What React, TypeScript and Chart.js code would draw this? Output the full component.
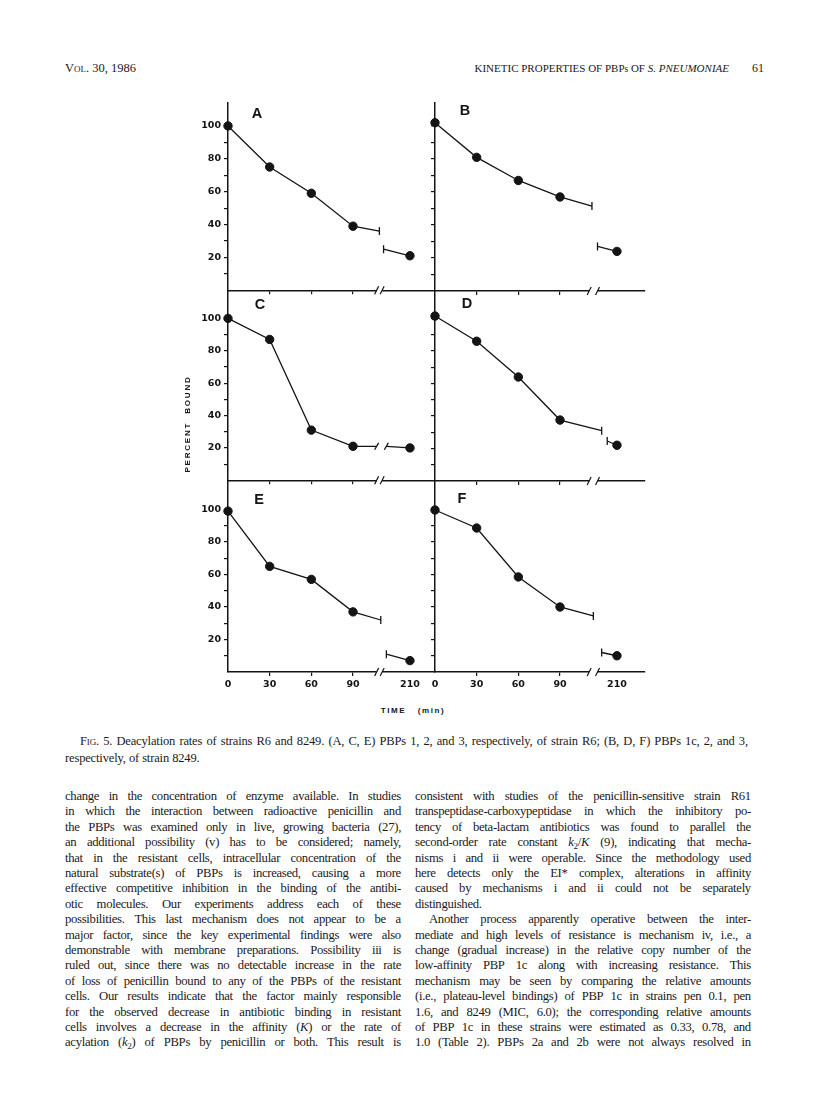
import React, { useEffect, useRef } from "react";
import { Chart, registerables } from "chart.js";

Chart.register(...registerables);

const INK = "#141414";

// ---- data -------------------------------------------------------------
// sampling times (min) before the axis break, and the late time after it
const TIMES = [0, 30, 60, 90];
const LATE_TIME = 210;
const LATE_TIME_POS = 131; // where 210 min sits on the broken time axis
const X_TICK_TIMES = [0, 30, 60, 90, 210];
const Y_LABELED = [20, 40, 60, 80, 100];
const PANEL_LETTERS = ["A", "B", "C", "D", "E", "F"];

// percent bound at 0, 30, 60 and 90 min
const A_BOUND = [100, 75, 59, 39];
const B_BOUND = [102, 81, 67, 57];
const C_BOUND = [100, 87, 31, 21];
const D_BOUND = [101.5, 86, 64, 37.5];
const E_BOUND = [99, 65, 57, 37];
const F_BOUND = [99.7, 88.6, 58.5, 40];

// end of the trend line before the break (axis position, percent)
const TAIL_POS = [109, 113, 107, 120, 110, 114];
const TAIL_BOUND = [36, 51.5, 21, 31, 32, 34.5];
// start of the trend line after the break (axis position, percent)
const HEAD_POS = [112, 117, 114, 124, 114, 120];
const HEAD_BOUND = [25, 27, 21, 24.6, 11, 12];
// percent bound at 210 min
const LATE_BOUND = [21, 24, 20, 22, 7, 10];
// how the trend line is interrupted: cap bars or slashes
const BREAK_STYLE = ["cap", "cap", "slash", "cap", "cap", "cap"];

const BOUNDS = [A_BOUND, B_BOUND, C_BOUND, D_BOUND, E_BOUND, F_BOUND];

// ---- layout -----------------------------------------------------------
const ROW_TOP = [103, 291, 481];
const ROW_BOTTOM = [291, 481, 672];
const COL_AXIS_X = [228, 435];
const COL_RIGHT = [435, 645];
const PX_PER_MIN = 1.389;
const ROW_PX_PER_PCT = [1.65, 1.625, 1.625];
const COL_AXIS_BREAK = [
  [107, 111],
  [111, 117],
];
const PAD_T = 12;
const PAD_R = 6;

const timePos = (t: number) => (t === LATE_TIME ? LATE_TIME_POS : t);

const TICK_FONT = { family: "DejaVu Sans", size: 9.5, weight: "bold" as const };

const axisBreakPlugin = {
  id: "axisBreak",
  afterDraw(chart: any, _args: any, opts: any) {
    const { ctx, chartArea } = chart;
    const xs = chart.scales.x;
    const y = chartArea.bottom;
    const a = xs.getPixelForValue(opts.from);
    const b = xs.getPixelForValue(opts.to);
    ctx.save();
    ctx.fillStyle = "#ffffff";
    ctx.fillRect(a, y - 3, b - a, 6);
    ctx.strokeStyle = INK;
    ctx.lineWidth = 1.2;
    for (const p of [a, b]) {
      ctx.beginPath();
      ctx.moveTo(p - 2, y + 4);
      ctx.lineTo(p + 2, y - 4);
      ctx.stroke();
    }
    ctx.restore();
  },
};

function Panel({ index }: { index: number }) {
  const ref = useRef<HTMLCanvasElement | null>(null);
  const col = index % 2;
  const row = Math.floor(index / 2);
  const yw = col === 0 ? 40 : 8;
  const xh = row === 2 ? 26 : 8;
  const chartW = COL_RIGHT[col] - COL_AXIS_X[col];
  const chartH = ROW_BOTTOM[row] - ROW_TOP[row];
  const left = COL_AXIS_X[col] - yw;
  const top = ROW_TOP[row] - PAD_T;
  const width = yw + chartW + PAD_R;
  const height = PAD_T + chartH + xh;
  const xMax = chartW / PX_PER_MIN;
  const yMax = chartH / ROW_PX_PER_PCT[row];

  useEffect(() => {
    if (!ref.current) return;
    const bound = BOUNDS[index];
    const slash = BREAK_STYLE[index] === "slash";
    const stubStyle = (isStub: boolean) => (isStub ? "line" : "circle");
    const mainData = TIMES.map((t, k) => ({ x: timePos(t), y: bound[k] })).concat([
      { x: TAIL_POS[index], y: TAIL_BOUND[index] },
    ]);
    const lateData = [
      { x: HEAD_POS[index], y: HEAD_BOUND[index] },
      { x: timePos(LATE_TIME), y: LATE_BOUND[index] },
    ];
    const stubIdxMain = mainData.length - 1;
    const common = {
      showLine: true,
      borderColor: INK,
      backgroundColor: INK,
      borderWidth: 1.3,
      tension: 0,
      clip: false as const,
      pointBorderColor: INK,
      pointBackgroundColor: INK,
    };
    const pointOpts = (stubIdx: number) => ({
      pointStyle: (c: any) => stubStyle(c.dataIndex === stubIdx),
      pointRotation: (c: any) => (c.dataIndex === stubIdx ? (slash ? 120 : 90) : 0),
      pointRadius: (c: any) => (c.dataIndex === stubIdx ? 4 : 4.2),
      pointBorderWidth: (c: any) => (c.dataIndex === stubIdx ? 1.3 : 1),
    });

    const chart = new Chart(ref.current, {
      type: "scatter",
      data: {
        datasets: [
          { ...common, ...pointOpts(stubIdxMain), data: mainData },
          { ...common, ...pointOpts(0), data: lateData },
        ] as any,
      },
      plugins: [axisBreakPlugin as any],
      options: {
        animation: false,
        responsive: false,
        maintainAspectRatio: false,
        devicePixelRatio: 1,
        events: [],
        layout: { padding: { top: PAD_T, right: PAD_R, left: 0, bottom: 0 } },
        plugins: {
          legend: { display: false },
          tooltip: { enabled: false },
          axisBreak: { from: COL_AXIS_BREAK[col][0], to: COL_AXIS_BREAK[col][1] },
        } as any,
        scales: {
          x: {
            type: "linear",
            min: 0,
            max: xMax,
            afterBuildTicks: (s: any) => {
              s.ticks = X_TICK_TIMES.map((t) => ({ value: timePos(t) }));
            },
            afterFit: (s: any) => {
              s.height = xh;
            },
            grid: {
              drawOnChartArea: false,
              drawTicks: true,
              tickLength: 4,
              lineWidth: 1.2,
              color: (c: any) =>
                c.tick && (c.tick.value === 0 || c.tick.value === LATE_TIME_POS)
                  ? "rgba(0,0,0,0)"
                  : INK,
            },
            border: { display: true, color: INK, width: 1.5 },
            ticks: {
              display: row === 2,
              autoSkip: false,
              maxRotation: 0,
              padding: 3,
              color: INK,
              font: TICK_FONT,
              callback: (_v: any, i: number) => String(X_TICK_TIMES[i]),
            },
          },
          y: {
            type: "linear",
            min: 0,
            max: yMax,
            afterFit: (s: any) => {
              s.width = yw;
            },
            grid: {
              drawOnChartArea: false,
              drawTicks: true,
              tickLength: 4,
              lineWidth: 1.2,
              color: (c: any) =>
                c.tick && (c.tick.value === 0 || c.tick.value > 100) ? "rgba(0,0,0,0)" : INK,
            },
            border: { display: true, color: INK, width: 1.5 },
            ticks: {
              display: col === 0,
              stepSize: 10,
              includeBounds: false,
              padding: 3,
              color: INK,
              font: TICK_FONT,
              callback: (v: any) => (Y_LABELED.includes(v) ? String(v) : ""),
            },
          },
        },
      } as any,
    });
    return () => chart.destroy();
  }, []);

  return (
    <canvas
      ref={ref}
      width={width}
      height={height}
      style={{ position: "absolute", left, top, width, height }}
    />
  );
}

// ---- page text ----------------------------------------------------------
const LEFT_LINES = [
  "change in the concentration of enzyme available. In studies",
  "in which the interaction between radioactive penicillin and",
  "the PBPs was examined only in live, growing bacteria (27),",
  "an additional possibility (v) has to be considered; namely,",
  "that in the resistant cells, intracellular concentration of the",
  "natural substrate(s) of PBPs is increased, causing a more",
  "effective competitive inhibition in the binding of the antibi-",
  "otic molecules. Our experiments address each of these",
  "possibilities. This last mechanism does not appear to be a",
  "major factor, since the key experimental findings were also",
  "demonstrable with membrane preparations. Possibility iii is",
  "ruled out, since there was no detectable increase in the rate",
  "of loss of penicillin bound to any of the PBPs of the resistant",
  "cells. Our results indicate that the factor mainly responsible",
  "for the observed decrease in antibiotic binding in resistant",
  "cells involves a decrease in the affinity (*K*) or the rate of",
  "acylation (*k*_2_) of PBPs by penicillin or both. This result is",
];

const RIGHT_LINES = [
  "consistent with studies of the penicillin-sensitive strain R61",
  "transpeptidase-carboxypeptidase in which the inhibitory po-",
  "tency of beta-lactam antibiotics was found to parallel the",
  "second-order rate constant *k*_2_/*K* (9), indicating that mecha-",
  "nisms i and ii were operable. Since the methodology used",
  "here detects only the EI* complex, alterations in affinity",
  "caused by mechanisms i and ii could not be separately",
  "distinguished.",
  "Another process apparently operative between the inter-",
  "mediate and high levels of resistance is mechanism iv, i.e., a",
  "change (gradual increase) in the relative copy number of the",
  "low-affinity PBP 1c along with increasing resistance. This",
  "mechanism may be seen by comparing the relative amounts",
  "(i.e., plateau-level bindings) of PBP 1c in strains pen 0.1, pen",
  "1.6, and 8249 (MIC, 6.0); the corresponding relative amounts",
  "of PBP 1c in these strains were estimated as 0.33, 0.78, and",
  "1.0 (Table 2). PBPs 2a and 2b were not always resolved in",
];
const RIGHT_UNJUSTIFIED = [7];
const RIGHT_INDENTED = [8];

const CAPTION_1 =
  "^Fig.^ 5. Deacylation rates of strains R6 and 8249. (A, C, E) PBPs 1, 2, and 3, respectively, of strain R6; (B, D, F) PBPs 1c, 2, and 3,";
const CAPTION_2 = "respectively, of strain 8249.";

function renderWord(w: string, key: number) {
  const parts = w.split(/(\*[^*]+\*|_[^_]+_|\^[^^]+\^)/).filter(Boolean);
  return (
    <span key={key} style={{ whiteSpace: "nowrap" }}>
      {parts.map((p, i) => {
        if (p.length > 2 && p.startsWith("*") && p.endsWith("*"))
          return <i key={i}>{p.slice(1, -1)}</i>;
        if (p.length > 2 && p.startsWith("_") && p.endsWith("_"))
          return (
            <span key={i} style={{ fontSize: "0.72em", position: "relative", top: "0.28em" }}>
              {p.slice(1, -1)}
            </span>
          );
        if (p.length > 2 && p.startsWith("^") && p.endsWith("^"))
          return (
            <span key={i} style={{ fontVariant: "small-caps" }}>
              {p.slice(1, -1)}
            </span>
          );
        return <React.Fragment key={i}>{p}</React.Fragment>;
      })}
    </span>
  );
}

function TextLine({
  text,
  left,
  top,
  width,
  justify,
  indent = 0,
  size,
  lh,
  spacing = 0,
}: {
  text: string;
  left: number;
  top: number;
  width: number;
  justify: boolean;
  indent?: number;
  size: number;
  lh: number;
  spacing?: number;
}) {
  const words = text.split(" ");
  return (
    <div
      style={{
        position: "absolute",
        left: left + indent,
        top,
        width: width - indent,
        height: lh,
        lineHeight: `${lh}px`,
        fontSize: size,
        letterSpacing: `${spacing}px`,
        fontFamily: "'Liberation Serif', 'Times New Roman', serif",
        color: "#1a1a1a",
        display: "flex",
        justifyContent: justify ? "space-between" : "flex-start",
        columnGap: justify ? 0 : "0.25em",
        whiteSpace: "nowrap",
      }}
    >
      {words.map((w, i) => renderWord(w, i))}
    </div>
  );
}

const SANS = "'Liberation Sans', Arial, sans-serif";

export default function App() {
  const LH = 15.4;
  const bodyTop = 789;
  return (
    <div
      style={{
        position: "absolute",
        left: 0,
        top: 0,
        width: 816,
        height: 1090,
        overflow: "hidden",
        background: "#ffffff",
      }}
    >
      {/* running header */}
      <TextLine text="^Vol.^ 30, 1986" left={65} top={61} width={130} justify={false} size={12.5} lh={14} />
      <div
        style={{
          position: "absolute",
          right: 816 - 729,
          top: 61,
          lineHeight: "14px",
          fontSize: 11,
          fontFamily: "'Liberation Serif', serif",
          color: "#1a1a1a",
          whiteSpace: "nowrap",
        }}
      >
        KINETIC PROPERTIES OF PBP<span style={{ fontSize: "0.85em" }}>s</span> OF <i>S. PNEUMONIAE</i>
      </div>
      <div
        style={{
          position: "absolute",
          left: 752,
          top: 61,
          lineHeight: "14px",
          fontSize: 12,
          fontFamily: "'Liberation Serif', serif",
          color: "#1a1a1a",
        }}
      >
        61
      </div>

      {/* chart panels */}
      {PANEL_LETTERS.map((_, i) => (
        <Panel key={i} index={i} />
      ))}

      {/* panel letters */}
      {PANEL_LETTERS.map((L, i) => {
        const cx = [257, 465, 260, 467, 259, 462][i];
        const cy = [113, 110, 304, 303, 499, 498][i];
        return (
          <div
            key={L}
            style={{
              position: "absolute",
              left: cx - 10,
              top: cy - 8,
              width: 20,
              lineHeight: "16px",
              textAlign: "center",
              fontFamily: SANS,
              fontWeight: "bold",
              fontSize: 14.5,
              color: INK,
            }}
          >
            {L}
          </div>
        );
      })}

      {/* y-axis title */}
      <div
        style={{
          position: "absolute",
          left: 188 - 60,
          top: 424 - 6,
          width: 120,
          height: 12,
          lineHeight: "12px",
          textAlign: "center",
          transform: "rotate(-90deg)",
          fontFamily: SANS,
          fontWeight: "bold",
          fontSize: 8,
          letterSpacing: "1.8px",
          color: INK,
          whiteSpace: "nowrap",
        }}
      >
        PERCENT&nbsp;&nbsp;BOUND
      </div>

      {/* x-axis title */}
      <div
        style={{
          position: "absolute",
          left: 353,
          top: 705,
          width: 120,
          lineHeight: "12px",
          textAlign: "center",
          fontFamily: SANS,
          fontWeight: "bold",
          fontSize: 8,
          letterSpacing: "1.6px",
          color: INK,
          whiteSpace: "nowrap",
        }}
      >
        TIME&nbsp;&nbsp;&nbsp;(min)
      </div>

      {/* caption */}
      <TextLine text={CAPTION_1} left={65} top={733} width={683} indent={15} justify={true} size={12.5} lh={16} spacing={-0.15} />
      <TextLine text={CAPTION_2} left={65} top={750} width={683} justify={false} size={12.5} lh={16} spacing={-0.15} />

      {/* body columns */}
      {LEFT_LINES.map((t, i) => (
        <TextLine key={"l" + i} text={t} left={65} top={bodyTop + i * LH} width={336} justify={true} size={12.7} lh={LH} spacing={-0.3} />
      ))}
      {RIGHT_LINES.map((t, i) => (
        <TextLine
          key={"r" + i}
          text={t}
          left={415}
          top={bodyTop + i * LH}
          width={336}
          indent={RIGHT_INDENTED.includes(i) ? 14 : 0}
          justify={!RIGHT_UNJUSTIFIED.includes(i)}
          size={12.7}
          lh={LH}
          spacing={-0.3}
        />
      ))}
    </div>
  );
}
